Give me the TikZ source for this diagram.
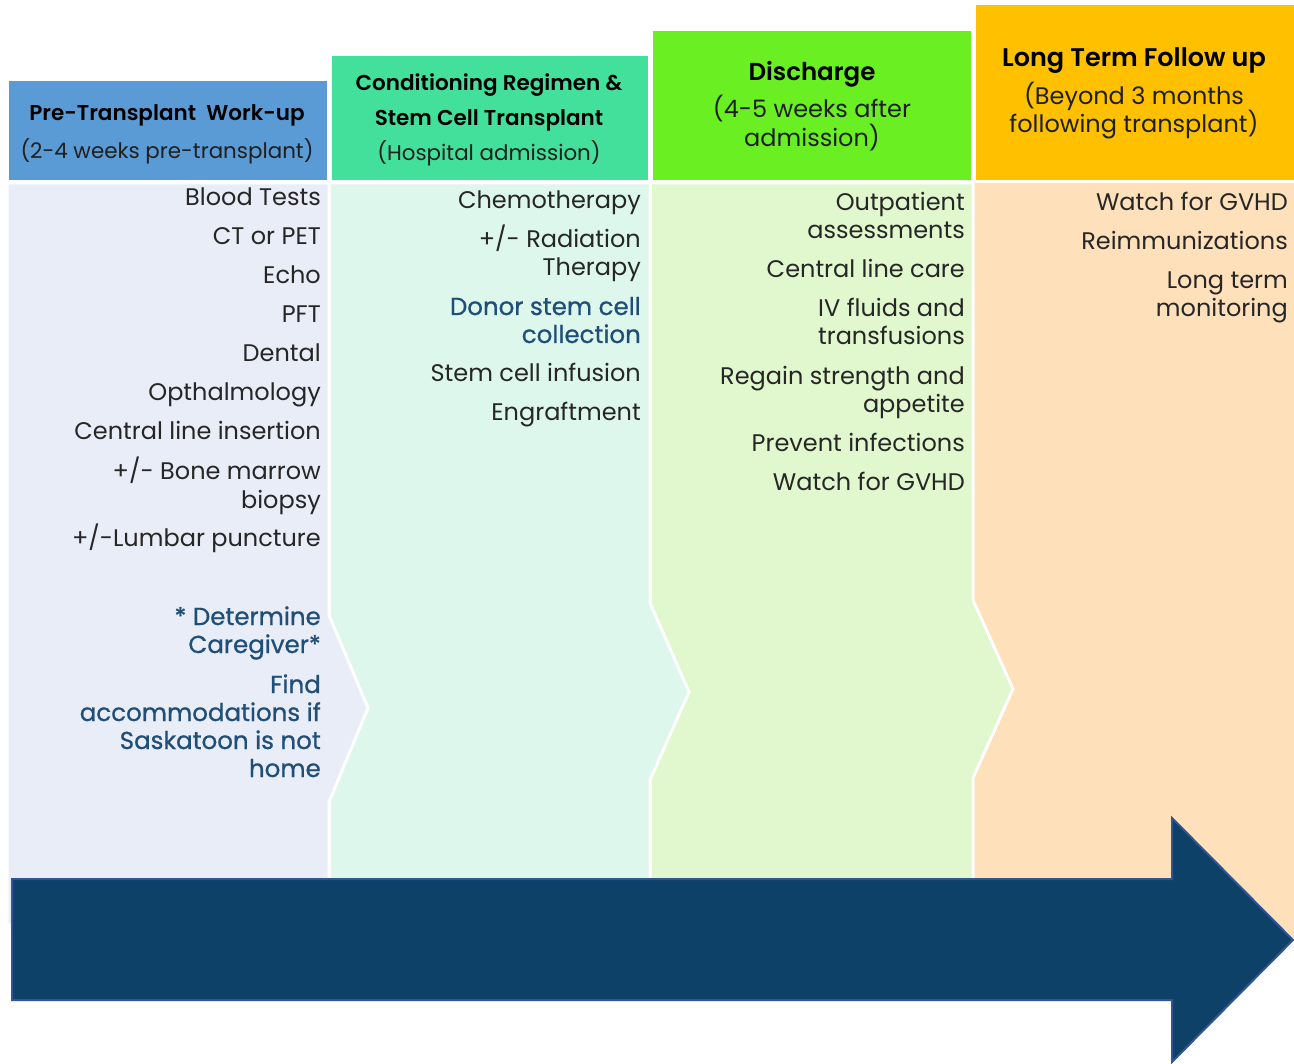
\documentclass[tikz,border=0pt]{standalone}
\usepackage{fontspec}
\setmainfont{Poppins}[BoldFont={Poppins SemiBold}]
\newfontfamily\bluefont{Poppins}[FakeBold=0.8]
\definecolor{hdrA}{HTML}{5B9BD5}
\definecolor{bodyA}{HTML}{E9EDF7}
\definecolor{hdrB}{HTML}{43E09B}
\definecolor{bodyB}{HTML}{DDF7EC}
\definecolor{hdrC}{HTML}{69EF22}
\definecolor{bodyC}{HTML}{E1F8CE}
\definecolor{hdrD}{HTML}{FFC000}
\definecolor{bodyD}{HTML}{FEE0BA}
\definecolor{arrowfill}{HTML}{0E4168}
\definecolor{arrowline}{HTML}{2F5597}
\definecolor{bluetext}{HTML}{1F4E79}
\definecolor{itemgray}{HTML}{262626}
\tikzset{
  body/.style={draw=white, line width=3pt, line join=miter},
  hdr/.style={draw=white, line width=1pt},
  item/.style={anchor=base east, inner sep=0pt, text=itemgray, font=\fontsize{24}{28}\selectfont},
  bitem/.style={anchor=base east, inner sep=0pt, text=bluetext, font=\bluefont\fontsize{24.5}{28}\selectfont},
  htitle/.style={anchor=base, inner sep=0pt, text=black, font=\fontsize{21.5}{28}\selectfont\bfseries},
  htitlel/.style={anchor=base, inner sep=0pt, text=black, font=\fontsize{24.5}{28}\selectfont\bfseries},
  hsub/.style={anchor=base, inner sep=0pt, text=black!88, font=\fontsize{21.4}{24}\selectfont},
  hsubl/.style={anchor=base, inner sep=0pt, text=black!88, font=\fontsize{24}{28}\selectfont},
}
\begin{document}
\begin{tikzpicture}[x=1pt,y=-1pt]
\useasboundingbox[fill=white] (0,0) rectangle (1294,1064);
% bodies, right to left
\fill[bodyD] (973,183) rectangle (1294,938);
\filldraw[fill=bodyC, body] (650,183) -- (973,183) -- (973,600) -- (1013,689) -- (973,778) -- (973,938) -- (650,938) -- cycle;
\filldraw[fill=bodyB, body] (329,183) -- (650,183) -- (650,603) -- (689,692) -- (650,780) -- (650,938) -- (329,938) -- cycle;
\filldraw[fill=bodyA, body] (7,183) -- (329,183) -- (329,615) -- (368,708) -- (329,802) -- (329,925) -- (7,925) -- cycle;
% headers
\filldraw[fill=hdrA, hdr] (8,81) rectangle (327,181);
\filldraw[fill=hdrB, hdr] (331,56) rectangle (648,181);
\filldraw[fill=hdrC, hdr] (652,31) rectangle (971,181);
\filldraw[fill=hdrD, hdr] (975,5) rectangle (1294,181);
% header texts
\node[htitle] (h1a) at (167,121) {Pre-Transplant\ \ Work-up};
\node[hsub] (h1b) at (167,159) {(2-4 weeks pre-transplant)};
\node[htitle] (h2a) at (489,91) {Conditioning Regimen \&};
\node[htitle] (h2b) at (489,126) {Stem Cell Transplant};
\node[hsub] (h2c) at (489,161) {(Hospital admission)};
\node[htitlel] (h3a) at (812,81) {Discharge};
\node[hsubl] (h3b) at (812,118) {(4-5 weeks after};
\node[hsubl] (h3c) at (812,147) {admission)};
\node[htitlel, font=\fontsize{25.5}{28}\selectfont\bfseries] (h4a) at (1134,67) {Long Term Follow up};
\node[hsubl] (h4b) at (1134,105) {(Beyond 3 months};
\node[hsubl] (h4c) at (1134,133) {following transplant)};
% column 1
\foreach \y/\t [count=\i] in {206/{Blood Tests}, 245/{CT or PET}, 284/{Echo}, 323/{PFT}, 362/{Dental}, 401/{Opthalmology}, 440/{Central line insertion}, 480/{+/- Bone marrow}, 508/{biopsy}, 547/{+/-Lumbar puncture}}
  \node[item] (a\i) at (321,\y) {\t};
\foreach \y/\t [count=\i] in {625/{* Determine}, 653/{Caregiver*}, 693/{Find}, 721/{accommodations if}, 749/{Saskatoon is not}, 777/{home}}
  \node[bitem] (ab\i) at (321,\y) {\t};
% column 2
\foreach \y/\t [count=\i] in {209/{Chemotherapy}, 248/{+/- Radiation}, 276/{Therapy}, 382/{Stem cell infusion}, 421/{Engraftment}}
  \node[item] (b\i) at (641,\y) {\t};
\node[bitem] (bb1) at (641,315) {Donor stem cell};
\node[bitem] (bb2) at (641,343) {collection};
% column 3
\foreach \y/\t [count=\i] in {211/{Outpatient}, 239/{assessments}, 278/{Central line care}, 317/{IV fluids and}, 345/{transfusions}, 385/{Regain strength and}, 413/{appetite}, 452/{Prevent infections}, 491/{Watch for GVHD}}
  \node[item] (c\i) at (965,\y) {\t};
% column 4
\foreach \y/\t [count=\i] in {211/{Watch for GVHD}, 250/{Reimmunizations}, 289/{Long term}, 317/{monitoring}}
  \node[item] (d\i) at (1288,\y) {\t};
% arrow
\filldraw[fill=arrowfill, draw=arrowline, line width=2pt, line join=miter]
  (12,879) -- (1172,879) -- (1172,818) -- (1293,940) -- (1172,1062) -- (1172,1000) -- (12,1000) -- cycle;
\end{tikzpicture}
\end{document}
